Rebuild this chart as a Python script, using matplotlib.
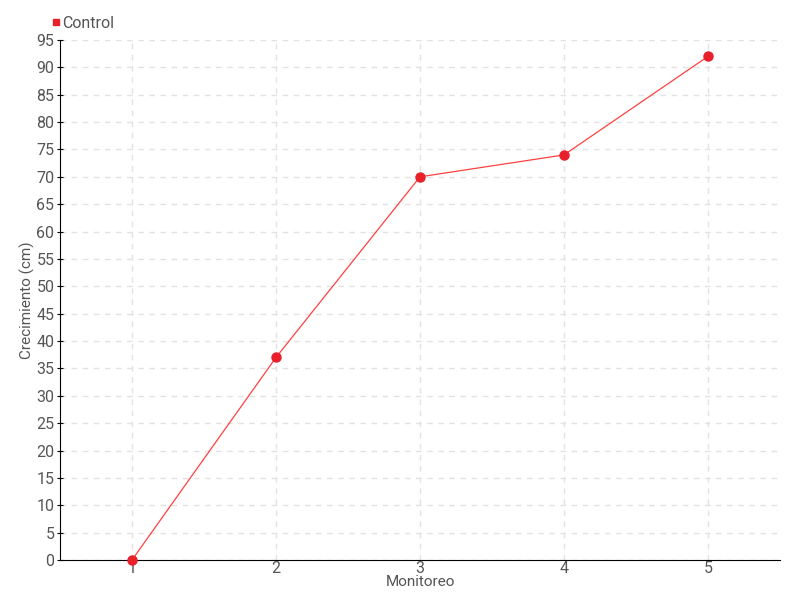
import matplotlib.pyplot as plt
from matplotlib.lines import Line2D

monitoreo = [1, 2, 3, 4, 5]
control = [0, 37, 70, 74, 92]

plt.rcParams['font.family'] = ['Roboto', 'DejaVu Sans']

fig = plt.figure(figsize=(8, 6), dpi=100)
ax = fig.add_axes([0.075, 0.0667, 0.9, 0.8667])

ax.plot(monitoreo, control, '-', color='#ff4040', lw=0.9)
ax.plot(monitoreo, control, 'o', color='#e8202a', ms=6.5, clip_on=False, zorder=3)

ax.set_xlim(0.5, 5.5)
ax.set_ylim(0, 95)
ax.set_yticks(range(0, 96, 5))
ax.set_xticks(monitoreo)

ax.grid(True, linestyle=(0, (4, 4)), color='#e2e2e2', lw=1)
ax.set_axisbelow(True)
for s in ['top', 'right']:
    ax.spines[s].set_visible(False)

ax.tick_params(axis='y', length=4, direction='inout', labelsize=11.5, labelcolor='#555555', pad=2)
ax.tick_params(axis='x', length=0, labelsize=11.5, labelcolor='#555555', pad=1)

ax.set_xlabel('Monitoreo', fontsize=11, color='#555555', labelpad=-1)
ax.set_ylabel('Crecimiento (cm)', fontsize=11, color='#555555', labelpad=1)

handle = Line2D([], [], marker='s', color='#e8202a', ls='', ms=5)
fig.legend([handle], ['Control'], loc='upper left', bbox_to_anchor=(0.052, 0.99),
           frameon=False, fontsize=11.5, labelcolor='#555555', handletextpad=0.1,
           handlelength=0.6, borderaxespad=0.2)

fig.savefig('out.png', dpi=100)
